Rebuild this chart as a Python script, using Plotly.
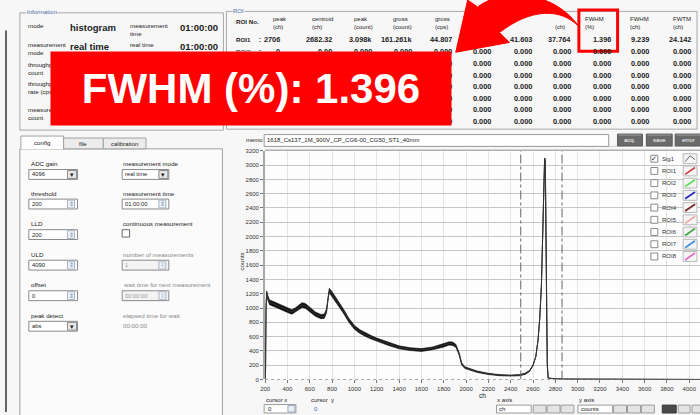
import plotly.graph_objects as go

# ---------------- data ----------------
channels = [200, 204, 208, 214, 222, 240, 270, 300, 350, 400, 440, 470, 500, 530, 560, 600,
            650, 700, 730, 750, 765, 775, 800, 850, 900, 950, 1000, 1050, 1100, 1150, 1200,
            1300, 1400, 1500, 1600, 1700, 1800, 1850, 1880, 1910, 1940, 1960, 1990, 2050,
            2100, 2200, 2300, 2400, 2480, 2530, 2570, 2600, 2625, 2645, 2660, 2675, 2688,
            2697, 2704, 2710, 2716, 2722, 2728, 2736, 2800, 2900, 3100, 4096]
counts = [0, 150, 1000, 1220, 1150, 1080, 1060, 1040, 1000, 970, 945, 970, 1010, 1040, 1030, 975,
          915, 880, 885, 960, 1180, 1245, 1195, 1080, 960, 830, 730, 670, 625, 590, 555,
          500, 450, 425, 412, 435, 475, 505, 500, 470, 350, 220, 165, 130,
          108, 78, 60, 55, 60, 80, 120, 200, 320, 550, 850, 1300, 2000,
          2700, 3098, 3050, 2200, 900, 200, 20, 8, 4, 2, 0]
noise = [0, 0, 15, 20, 32, 34, 34, 34, 33, 32, 32, 32, 33, 34, 33, 32,
         31, 30, 30, 30, 30, 32, 33, 32, 30, 28, 27, 26, 25, 24, 24,
         22, 21, 20, 20, 20, 22, 23, 23, 21, 18, 14, 12, 11,
         10, 9, 8, 8, 8, 9, 8, 6, 3, 0, 0, 0, 0,
         0, 0, 0, 0, 0, 0, 0, 0, 0, 0, 0]
roi_bounds = [2490, 2860]
x_ticks = list(range(200, 4001, 200))
y_ticks = list(range(0, 3201, 200))

roi_head1 = ["peak", "centroid", "peak", "gross", "gross", "", "", "", "FWHM", "FWHM", "FWTM"]
roi_head2 = ["(ch)", "(ch)", "(count)", "(count)", "(cps)", "", "", "(ch)", "(%)", "(ch)", "(ch)"]
roi1_vals = ["2706", "2682.32", "3.098k", "161.261k", "44.807", "", "41.603", "37.764", "1.396", "9.239", "24.142"]
roi_zero = ["0", "0.00", "0.000", "0.000", "0.000", "0.000", "0.000", "0.000", "0.000", "0.000", "0.000"]
roi_names = ["ROI1", "ROI2", "ROI3", "ROI4", "ROI5", "ROI6", "ROI7", "ROI8"]
legend_names = ["Sig1", "ROI1", "ROI2", "ROI3", "ROI4", "ROI5", "ROI6", "ROI7", "ROI8"]
legend_colors = ["#666666", "#d04848", "#5ee05e", "#2a2ab8", "#7a2a2a", "#f0a8a8", "#48a848", "#4a90e0", "#e070c8"]
memo_text = "1618_Cs137_1M_900V_CP_CG6-00_CG50_ST1_40mm"
banner_text = "FWHM (%): 1.396"

# ---------------- helpers (pixel -> paper) ----------------
W, H = 700, 415
FONT = "Liberation Sans"
BG = "#f7f7f7"
shapes, ann = [], []


def px(x):
    return x / W


def py(y):
    return 1 - y / H


def P(x, y):
    return f"{px(x):.5f},{py(y):.5f}"


def rect(x0, y0, x1, y1, line="#a0a0a0", fill="rgba(0,0,0,0)", width=1, layer="above"):
    shapes.append(dict(type="rect", xref="paper", yref="paper", x0=px(x0), x1=px(x1),
                       y0=py(y1), y1=py(y0), line=dict(color=line, width=width),
                       fillcolor=fill, layer=layer))


def seg(x0, y0, x1, y1, color="#a0a0a0", width=1, dash="solid"):
    shapes.append(dict(type="line", xref="paper", yref="paper", x0=px(x0), x1=px(x1),
                       y0=py(y0), y1=py(y1), line=dict(color=color, width=width, dash=dash),
                       layer="above"))


def txt(x, y, s, size=6.2, color="#222", xa="left", ya="middle", bold=False, angle=0, bg=None):
    d = dict(xref="paper", yref="paper", x=px(x), y=py(y),
             text=f"<b>{s}</b>" if bold else s, showarrow=False, xanchor=xa, yanchor=ya,
             align=xa if xa != "center" else "center",
             font=dict(size=size, color=color, family=FONT), borderpad=0, textangle=angle)
    if bg:
        d["bgcolor"] = bg
    ann.append(d)


# ---------------- figure & spectrum ----------------
fig = go.Figure()
hi = [c + n for c, n in zip(counts, noise)]
lo = [max(c - n, 0) for c, n in zip(counts, noise)]
fig.add_trace(go.Scatter(x=channels + channels[::-1], y=hi + lo[::-1], fill="toself",
                         fillcolor="#111111", line=dict(color="#111111", width=0.6),
                         mode="lines", hoverinfo="skip", showlegend=False))
fig.add_trace(go.Scatter(x=channels, y=counts, mode="lines",
                         line=dict(color="#333333", width=1), showlegend=False))

# zero dotted line and ROI bounds
shapes.append(dict(type="line", xref="x", yref="y", x0=200, x1=4096, y0=0, y1=0,
                   line=dict(color="#555", width=1, dash="dot"), layer="above"))
for b in roi_bounds:
    shapes.append(dict(type="line", xref="x", yref="y", x0=b, x1=b, y0=0, y1=3200,
                       line=dict(color="#666", width=1, dash="dashdot"), layer="above"))

# plot frame top
seg(262, 145.5, 700, 145.5, "#d0d0d0", 1)
seg(262, 149.5, 700, 149.5, "#b0b0b0", 1.5)
txt(476, 398, "ch", 6.5)
txt(238, 262, "counts", 6.2, angle=-90, xa="center")

# legend (right side of the graph)
for i, (nm, col) in enumerate(zip(legend_names, legend_colors)):
    y = 158 + 12.4 * i
    rect(650.5, y - 3.5, 657.5, y + 3.5, "#8a8a8a", "#ffffff")
    if i == 0:
        txt(654, y, "✓", 6.5, "#222", xa="center")
    txt(661, y, nm, 6, "#333")
    rect(683, y - 5, 697, y + 5, "#b8b8b8", "#f4f4f4")
    if i == 0:
        shapes.append(dict(type="path", xref="paper", yref="paper",
                           path=f"M{P(685, y + 3)} L{P(690, y - 3)} L{P(695, y + 1)}",
                           line=dict(color=col, width=1), layer="above"))
    else:
        seg(685, y + 3.5, 695, y - 3.5, col, 1.8)

# memo row
txt(242, 139.5, "memo", 6)
rect(261, 133.5, 608, 145.5, "#9a9a9a", "#ffffff")
txt(263, 139.5, memo_text, 6)
for (x0, x1, s) in [(617, 642, "acq."), (646, 672, "save"), (675, 701, "error")]:
    rect(x0, 133, x1, 145, "#555", "#6a6a6a")
    seg(x0 + 1, 134, x1 - 1, 134, "#9a9a9a", 1)
    txt((x0 + x1) / 2, 139.5, s, 6, "#ffffff", xa="center")

# bottom controls
txt(262, 403, "cursor x", 6)
rect(261, 407.5, 293, 416, "#9a9a9a", "#ffffff")
txt(264, 411.5, "0", 6)
rect(285, 408.5, 292, 415, "#9ab", "#e8eef6")
txt(307, 403, "cursor  y", 6)
txt(310, 411.5, "0", 6, "#4060c0")
txt(495, 403, "x axis", 6)
rect(495, 408, 530, 416, "#9a9a9a", "#ffffff")
txt(497, 411.5, "ch", 6)
for x0 in [532, 546, 560]:
    rect(x0, 408, x0 + 13, 416, "#9a9a9a", "#e4e4e4")
txt(577, 403, "y axis", 6)
rect(577, 408, 612, 416, "#9a9a9a", "#ffffff")
txt(579, 411.5, "counts", 6)
for x0 in [613, 627, 641]:
    rect(x0, 408, x0 + 13, 416, "#9a9a9a", "#e4e4e4")
rect(662, 408, 676, 416, "#333", "#4a4a4a")
rect(678, 408, 690, 416, "#9a9a9a", "#e4e4e4")
rect(692, 408, 705, 416, "#9a9a9a", "#e4e4e4")

# window border on far left
seg(1, 28, 1, 415, "#666", 2)

# ---------------- Information panel ----------------
rect(15, 10, 220, 129, "#a8a8a8")
txt(21, 9.5, "Information", 6, "#4a6aa8", bg=BG)
txt(22, 23, "mode")
txt(64, 25, "histogram", 9.5, bold=True)
txt(125, 27, "measurement<br>time")
txt(175, 25, "01:00:00", 9.5, bold=True)
txt(22, 46, "measurement<br>mode")
txt(64, 44, "real time", 9.5, bold=True)
txt(125, 42, "real time")
txt(175, 44, "01:00:00", 9.5, bold=True)
txt(22, 66, "throughput<br>count")
txt(22, 86, "throughput<br>rate (cps)")
txt(22, 112, "measurement<br>count")

# ---------------- ROI panel ----------------
rect(223, 8.5, 697, 128, "#a8a8a8")
txt(229, 8.5, "ROI", 6, "#4a6aa8", bg=BG)
txt(232, 19, "ROI No.", 6.2, bold=True)
header_x = [269, 308, 350, 390, 432, 472, 512, 553, 583, 628, 672]
value_right = [278, 330, 371, 411, 451, 491, 532, 571, 611, 650, 692]
row_y = [37, 49, 61.5, 73.3, 85, 96.7, 108.3, 120.5]
for hx, h1, h2 in zip(header_x, roi_head1, roi_head2):
    if h1:
        txt(hx, 16, h1, 6)
    if h2:
        txt(hx, 24, h2, 6)
for r, (nm, ry) in enumerate(zip(roi_names, row_y)):
    hidden = r >= 2          # rows 3..8 sit under the red banner on the left
    if not hidden:
        txt(232, ry, nm, 6.2, bold=(r == 0))
        txt(255, ry, ":", 6.5, bold=True)
    vals = roi1_vals if r == 0 else roi_zero
    for c, (vx, v) in enumerate(zip(value_right, vals)):
        if v and not (hidden and c < 4):
            txt(vx, ry, v, 7.3, xa="right", bold=True)

# red box around FWHM (%)
rect(578, 7, 617, 49, "#ff0000", width=3)
# curved red arrow
arrow = (f"M{P(454, 50)} L{P(466, -3)} L{P(476, 4)} "
         f"C{P(505, -18)} {P(555, -10)} {P(578, 24)} "
         f"C{P(560, 5)} {P(530, 5)} {P(498, 30)} L{P(508, 40)} Z")
shapes.append(dict(type="path", xref="paper", yref="paper", path=arrow,
                   fillcolor="#ff0000", line=dict(color="#ff0000", width=1), layer="above"))

# ---------------- config panel ----------------
rect(15, 148, 219, 430, "#a0a0a0", "#fbfbfb", layer="below")
rect(59, 137, 99, 148, "#a0a0a0", "#ececec")
rect(99, 137, 142, 148, "#a0a0a0", "#ececec")
rect(16, 135, 59, 148.5, "#a0a0a0", "#ffffff")
seg(16.5, 148, 58.5, 148, "#ffffff", 1.5)
txt(37.5, 142, "config", 6.2, xa="center")
txt(79, 143, "file", 6, xa="center")
txt(120.5, 143, "calibration", 6, xa="center")


def box(x0, y, x1, s, kind, grey=False):
    col = "#999" if grey else "#222"
    rect(x0, y + 6, x1, y + 16, "#8a8a8a", "#f4f4f4" if grey else "#ffffff")
    txt(x0 + 2, y + 11, s, 5.8, col)
    if kind == "combo":
        rect(x1 - 10, y + 7, x1 - 1, y + 15, "#8a8a8a", "#e8e8e8")
        txt(x1 - 5.5, y + 11, "▾", 7, "#222", xa="center")
    else:
        rect(x1 - 10, y + 7, x1 - 3, y + 15, "#a8b4c4", "#eef2f8")
        txt(x1 - 6.5, y + 11, "⇕", 6, "#6a86b0" if not grey else "#b0bccc", xa="center")


left_items = [("ADC gain", 163, "4096", "combo"), ("threshold", 193, "200", "spin"),
              ("LLD", 224, "200", "spin"), ("ULD", 255, "4090", "spin"),
              ("offset", 286, "0", "spin"), ("peak detect", 317, "abs", "combo")]
for lab, y, v, k in left_items:
    txt(25, y, lab, 6.2)
    box(24, y, 73, v, k)
txt(118, 163, "measurement mode", 6.2)
box(118, 163, 165, "real time", "combo")
txt(118, 193, "measurement time", 6.2)
box(118, 193, 165, "01:00:00", "spin")
txt(118, 224, "continuous measurement", 6.2)
rect(118, 230, 125.5, 237.5, "#6a6a6a", "#ffffff")
txt(118, 255, "number of measurements", 6.2, "#888")
box(118, 255, 165, "1", "spin", grey=True)
txt(118, 286, "wait time for next measurement", 6.2, "#888")
box(118, 286, 165, "00:00:00", "spin", grey=True)
txt(118, 317, "elapsed time for wait", 6.2, "#888")
txt(118, 327, "00:00:00", 6.2, "#888")

# ---------------- banner (drawn last so it covers the panel text) ----------------
ann.append(dict(xref="paper", yref="paper", x=px(248), y=py(86.5), text=f"<b>{banner_text}</b>",
                showarrow=False, xanchor="center", yanchor="middle", bgcolor="#ff0000",
                width=400, height=73, borderpad=0,
                font=dict(size=42, color="#ffffff", family=FONT)))

fig.update_layout(
    width=W, height=H, autosize=False,
    margin=dict(l=0, r=0, t=0, b=0, pad=0),
    paper_bgcolor=BG, plot_bgcolor="#fdfdfd",
    showlegend=False,
    xaxis=dict(domain=[262 / W, 1.0], range=[200, 4096], tickvals=x_ticks,
               ticks="outside", ticklen=3, tickcolor="#777", showline=False,
               showgrid=True, gridcolor="#e4e4e4", gridwidth=1, zeroline=False,
               tickfont=dict(size=6, color="#333", family=FONT)),
    yaxis=dict(domain=[py(382), py(150)], range=[0, 3200], tickvals=y_ticks,
               ticks="outside", ticklen=3, tickcolor="#777", showline=True,
               linecolor="#a8a8a8", linewidth=2, showgrid=True, gridcolor="#c6c6c6",
               gridwidth=1.2, zeroline=False,
               tickfont=dict(size=6, color="#333", family=FONT)),
    shapes=shapes, annotations=ann,
)

fig.write_html("out.html", config={"displayModeBar": False},
               post_script="document.body.style.margin='0';document.body.style.padding='0';")
